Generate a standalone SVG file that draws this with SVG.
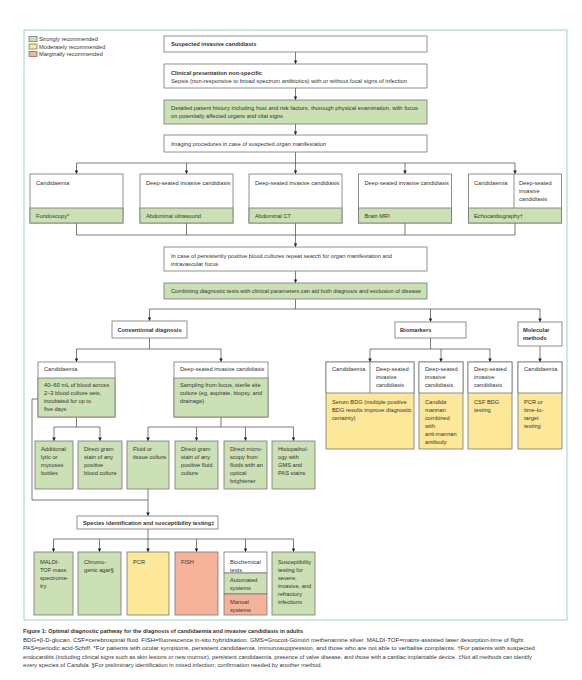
<svg xmlns="http://www.w3.org/2000/svg" width="582" height="680" viewBox="0 0 582 680">
<defs>
<marker id="ah" viewBox="0 0 6 6" refX="6" refY="3" markerWidth="3.6" markerHeight="3.6" orient="auto" markerUnits="userSpaceOnUse">
<path d="M0,0 L6,3 L0,6 z" fill="#222"/>
</marker>
<style>
.w{fill:#fff;stroke:#777;stroke-width:0.8}
.g{fill:#cbe0b4;stroke:#777;stroke-width:0.8}
.y{fill:#fde89a;stroke:#777;stroke-width:0.8}
.r{fill:#f6b39b;stroke:#777;stroke-width:0.8}
text{font-family:"Liberation Sans",Arial,sans-serif;font-size:5.7px;fill:#333}
.bd{font-weight:bold}
.ln{fill:none;stroke:#444;stroke-width:0.7}
.ar{fill:none;stroke:#444;stroke-width:0.7;marker-end:url(#ah)}
.cap{font-size:5.6px}
</style>
</defs>
<rect x="24" y="30" width="543" height="590" fill="#fff" stroke="#9fd2c4" stroke-width="1"/>
<g id="legend">
<rect x="29" y="36.5" width="8" height="5" class="g"/><text x="39" y="41">Strongly recommended</text>
<rect x="29" y="44" width="8" height="5" class="y"/><text x="39" y="48.5">Moderately recommended</text>
<rect x="29" y="51.5" width="8" height="5" class="r"/><text x="39" y="56">Marginally recommended</text>
</g>
<g id="connectors">
<path class="ar" d="M295.5,52 V64"/>
<path class="ar" d="M295.5,88 V100"/>
<path class="ar" d="M295.5,124 V135"/>
<path class="ar" d="M295.5,152 V174"/>
<path class="ln" d="M76.5,163 H515"/>
<path class="ar" d="M76.5,163 V174"/>
<path class="ar" d="M186.5,163 V174"/>
<path class="ar" d="M405,163 V174"/>
<path class="ar" d="M515,163 V174"/>
<path class="ln" d="M76.5,223 V235 H515 V223 M186.5,223 V235 M405,223 V235"/>
<path class="ar" d="M295.5,223 V247"/>
<path class="ar" d="M295.5,271 V283"/>
<path class="ln" d="M295.5,299 V309 M149.5,309 H540"/>
<path class="ar" d="M149.5,309 V321"/>
<path class="ar" d="M430.5,309 V322"/>
<path class="ar" d="M540,309 V322"/>
<path class="ln" d="M149.5,338 V349 M76.5,349 H221"/>
<path class="ar" d="M76.5,349 V362"/>
<path class="ar" d="M221,349 V362"/>
<path class="ln" d="M430.5,338 V349 M370,349 H490"/>
<path class="ar" d="M370,349 V362"/>
<path class="ar" d="M441,349 V362"/>
<path class="ar" d="M490,349 V362"/>
<path class="ar" d="M540,346 V362"/>
<path class="ln" d="M76.5,417 V427 M54,427 H100"/>
<path class="ar" d="M54,427 V441"/>
<path class="ar" d="M100,427 V441"/>
<path class="ln" d="M221,417 V427 M148,427 H293.5"/>
<path class="ar" d="M148,427 V441"/>
<path class="ar" d="M196.5,427 V441"/>
<path class="ar" d="M245.5,427 V441"/>
<path class="ar" d="M293.5,427 V441"/>
<path class="ln" d="M38,399 H32 V500 H148"/>
<path class="ar" d="M148,489 V516"/>
<path class="ln" d="M148,529 V539 M53.5,539 H293.5"/>
<path class="ar" d="M53.5,539 V552"/>
<path class="ar" d="M99.5,539 V552"/>
<path class="ar" d="M148,539 V552"/>
<path class="ar" d="M196.5,539 V552"/>
<path class="ar" d="M245.5,539 V552"/>
<path class="ar" d="M293.5,539 V552"/>
</g>
<g id="n-suspected">
<rect x="164" y="36" width="263" height="16" class="w"/>
<text x="171" y="46" class="bd">Suspected invasive candidiasis</text>
</g>
<g id="n-clinical">
<rect x="164" y="64" width="263" height="24" class="w"/>
<text x="171" y="74.5" class="bd">Clinical presentation non-specific</text>
<text x="171" y="82.5" textLength="236" lengthAdjust="spacingAndGlyphs">Sepsis (non-responsive to broad spectrum antibiotics) with or without focal signs of infection</text>
</g>
<g id="n-history">
<rect x="164" y="100" width="263" height="24" class="g"/>
<text x="171" y="110" textLength="247" lengthAdjust="spacingAndGlyphs">Detailed patient history including host and risk factors, thorough physical examination, with focus</text>
<text x="171" y="118">on potentially affected organs and vital signs</text>
</g>
<g id="n-imaging">
<rect x="164" y="135" width="263" height="17" class="w"/>
<text x="171" y="145.5">Imaging procedures in case of suspected organ manifestation</text>
</g>
<g id="n-fundoscopy">
<rect x="30" y="174" width="93" height="49" class="w"/>
<rect x="30" y="208" width="93" height="15" class="g"/>
<text x="36" y="185">Candidaemia</text>
<text x="36" y="217.5">Fundoscopy*</text>
</g>
<g id="n-ultrasound">
<rect x="140" y="174" width="93" height="49" class="w"/>
<rect x="140" y="208" width="93" height="15" class="g"/>
<text x="146" y="185">Deep-seated invasive candidiasis</text>
<text x="146" y="217.5">Abdominal ultrasound</text>
</g>
<g id="n-ct">
<rect x="249" y="174" width="93" height="49" class="w"/>
<rect x="249" y="208" width="93" height="15" class="g"/>
<text x="255" y="185">Deep-seated invasive candidiasis</text>
<text x="255" y="217.5">Abdominal CT</text>
</g>
<g id="n-mri">
<rect x="358.5" y="174" width="93" height="49" class="w"/>
<rect x="358.5" y="208" width="93" height="15" class="g"/>
<text x="364.5" y="185">Deep-seated invasive candidiasis</text>
<text x="364.5" y="217.5">Brain MRI</text>
</g>
<g id="n-echo">
<rect x="468.5" y="174" width="93" height="49" class="w"/>
<path d="M514,174 V208" stroke="#777" stroke-width="0.8"/>
<rect x="468.5" y="208" width="93" height="15" class="g"/>
<text x="474" y="185">Candidaemia</text>
<text x="519" y="185">Deep-seated</text>
<text x="519" y="193">invasive</text>
<text x="519" y="201">candidiasis</text>
<text x="474" y="217.5">Echocardiography†</text>
</g>
<g id="n-persistent">
<rect x="164" y="247" width="263" height="24" class="w"/>
<text x="171" y="257.5" textLength="221" lengthAdjust="spacingAndGlyphs">In case of persistently positive blood cultures repeat search for organ manifestation and</text>
<text x="171" y="265.5">intravascular focus</text>
</g>
<g id="n-combining">
<rect x="164" y="283" width="263" height="16" class="g"/>
<text x="171" y="293" textLength="250" lengthAdjust="spacingAndGlyphs">Combining diagnostic tests with clinical parameters can aid both diagnosis and exclusion of disease</text>
</g>
<g id="n-conventional">
<rect x="112" y="321" width="75" height="17" class="w"/>
<text x="149.5" y="331.5" class="bd" text-anchor="middle">Conventional diagnosis</text>
</g>
<g id="n-biomarkers">
<rect x="395" y="322" width="71" height="16" class="w"/>
<text x="400" y="332" class="bd">Biomarkers</text>
</g>
<g id="n-molecular">
<rect x="518" y="322" width="44" height="24" class="w"/>
<text x="523" y="332" class="bd">Molecular</text>
<text x="523" y="340" class="bd">methods</text>
</g>
<g id="n-blood">
<rect x="38" y="362" width="77" height="55" class="w"/>
<rect x="38" y="378" width="77" height="39" class="g"/>
<text x="44" y="371">Candidaemia</text>
<text x="44" y="387">40–60 mL of blood across</text>
<text x="44" y="395">2–3 blood culture sets,</text>
<text x="44" y="403">incubated for up to</text>
<text x="44" y="411">five days</text>
</g>
<g id="n-sampling">
<rect x="174" y="362" width="94" height="55" class="w"/>
<rect x="174" y="378" width="94" height="39" class="g"/>
<text x="180" y="371">Deep-seated invasive candidiasis</text>
<text x="180" y="387">Sampling from focus, sterile site</text>
<text x="180" y="395">culture (eg, aspirate, biopsy, and</text>
<text x="180" y="403">drainage)</text>
</g>
<g id="n-bdg">
<rect x="326" y="362" width="88" height="87" class="y"/>
<rect x="326" y="362" width="88" height="31" class="w"/>
<path d="M370,362 V393" stroke="#777" stroke-width="0.8"/>
<text x="332" y="371">Candidaemia</text>
<text x="376" y="371">Deep-seated</text>
<text x="376" y="379">invasive</text>
<text x="376" y="387">candidiasis</text>
<text x="332" y="404">Serum BDG (multiple positive</text>
<text x="332" y="412">BDG results improve diagnostic</text>
<text x="332" y="420">certainty)</text>
</g>
<g id="n-mannan">
<rect x="419" y="362" width="44" height="87" class="y"/>
<rect x="419" y="362" width="44" height="31" class="w"/>
<text x="425" y="371">Deep-seated</text>
<text x="425" y="379">invasive</text>
<text x="425" y="387">candidiasis</text>
<text x="425" y="404" font-style="italic">Candida</text>
<text x="425" y="412">mannan</text>
<text x="425" y="420">combined</text>
<text x="425" y="428">with</text>
<text x="425" y="436">anti-mannan</text>
<text x="425" y="444">antibody</text>
</g>
<g id="n-csf">
<rect x="468" y="362" width="44" height="87" class="y"/>
<rect x="468" y="362" width="44" height="31" class="w"/>
<text x="474" y="371">Deep-seated</text>
<text x="474" y="379">invasive</text>
<text x="474" y="387">candidiasis</text>
<text x="474" y="404">CSF BDG</text>
<text x="474" y="412">testing</text>
</g>
<g id="n-pcr-mol">
<rect x="518" y="362" width="44" height="87" class="y"/>
<rect x="518" y="362" width="44" height="31" class="w"/>
<text x="524" y="371">Candidaemia</text>
<text x="524" y="404">PCR or</text>
<text x="524" y="412">time-to-</text>
<text x="524" y="420">target</text>
<text x="524" y="428">testing</text>
</g>
<g id="n-lytic">
<rect x="35" y="441" width="38" height="48" class="g"/>
<text x="41" y="451">Additional</text>
<text x="41" y="459">lytic or</text>
<text x="41" y="467">mycoses</text>
<text x="41" y="475">bottles</text>
</g>
<g id="n-gram-blood">
<rect x="78" y="441" width="44" height="48" class="g"/>
<text x="84" y="451">Direct gram</text>
<text x="84" y="459">stain of any</text>
<text x="84" y="467">positive</text>
<text x="84" y="475">blood culture</text>
</g>
<g id="n-fluid">
<rect x="127" y="441" width="42" height="48" class="g"/>
<text x="133" y="451">Fluid or</text>
<text x="133" y="459">tissue culture</text>
</g>
<g id="n-gram-fluid">
<rect x="175" y="441" width="43" height="48" class="g"/>
<text x="181" y="451">Direct gram</text>
<text x="181" y="459">stain of any</text>
<text x="181" y="467">positive fluid</text>
<text x="181" y="475">culture</text>
</g>
<g id="n-microscopy">
<rect x="224" y="441" width="43" height="48" class="g"/>
<text x="230" y="451">Direct micro-</text>
<text x="230" y="459">scopy from</text>
<text x="230" y="467">fluids with an</text>
<text x="230" y="475">optical</text>
<text x="230" y="483">brightener</text>
</g>
<g id="n-histo">
<rect x="272" y="441" width="43" height="48" class="g"/>
<text x="278" y="451">Histopathol-</text>
<text x="278" y="459">ogy with</text>
<text x="278" y="467">GMS and</text>
<text x="278" y="475">PAS stains</text>
</g>
<g id="n-species">
<rect x="77" y="516" width="141" height="13" class="w"/>
<text x="83" y="524.5" class="bd">Species identification and susceptibility testing‡</text>
</g>
<g id="n-maldi">
<rect x="34" y="552" width="39" height="63" class="g"/>
<text x="40" y="564">MALDI-</text>
<text x="40" y="572">TOF mass</text>
<text x="40" y="580">spectrome-</text>
<text x="40" y="588">try</text>
</g>
<g id="n-chromo">
<rect x="78" y="552" width="43" height="63" class="g"/>
<text x="84" y="564">Chromo-</text>
<text x="84" y="572">genic agar§</text>
</g>
<g id="n-pcr">
<rect x="127" y="552" width="42" height="63" class="y"/>
<text x="133" y="564">PCR</text>
</g>
<g id="n-fish">
<rect x="175" y="552" width="43" height="63" class="r"/>
<text x="181" y="564">FISH</text>
</g>
<g id="n-biochem">
<rect x="224" y="552" width="43" height="21" class="w"/>
<rect x="224" y="573" width="43" height="21" class="g"/>
<rect x="224" y="594" width="43" height="21" class="r"/>
<text x="230" y="564">Biochemical</text>
<text x="230" y="571.5">tests</text>
<text x="230" y="582">Automated</text>
<text x="230" y="590">systems</text>
<text x="230" y="604">Manual</text>
<text x="230" y="612">systems</text>
</g>
<g id="n-suscept">
<rect x="272" y="552" width="43" height="63" class="g"/>
<text x="278" y="564">Susceptibility</text>
<text x="278" y="572">testing for</text>
<text x="278" y="580">severe,</text>
<text x="278" y="588">invasive, and</text>
<text x="278" y="596">refractory</text>
<text x="278" y="604">infections</text>
</g>
<g id="caption">
<text x="23" y="633" class="cap bd" textLength="280" lengthAdjust="spacingAndGlyphs">Figure 1: Optimal diagnostic pathway for the diagnosis of candidaemia and invasive candidiasis in adults</text>
<text x="23" y="641.5" class="cap" textLength="502" lengthAdjust="spacingAndGlyphs">BDG=β-D-glucan. CSF=cerebrospinal fluid. FISH=fluorescence in-situ hybridisation. GMS=Grocott-Gömöri methenamine silver. MALDI-TOF=matrix-assisted laser desorption-time of flight.</text>
<text x="23" y="650" class="cap" textLength="512" lengthAdjust="spacingAndGlyphs">PAS=periodic acid-Schiff. *For patients with ocular symptoms, persistent candidaemia, immunosuppression, and those who are not able to verbalise complaints. †For patients with suspected</text>
<text x="23" y="658.5" class="cap" textLength="509" lengthAdjust="spacingAndGlyphs">endocarditis (including clinical signs such as skin lesions or new murmur), persistent candidaemia, presence of valve disease, and those with a cardiac implantable device. ‡Not all methods can identify</text>
<text x="23" y="667" class="cap" textLength="299" lengthAdjust="spacingAndGlyphs">every species of <tspan font-style="italic">Candida</tspan>. §For preliminary identification in mixed infection; confirmation needed by another method.</text>
</g>
</svg>
